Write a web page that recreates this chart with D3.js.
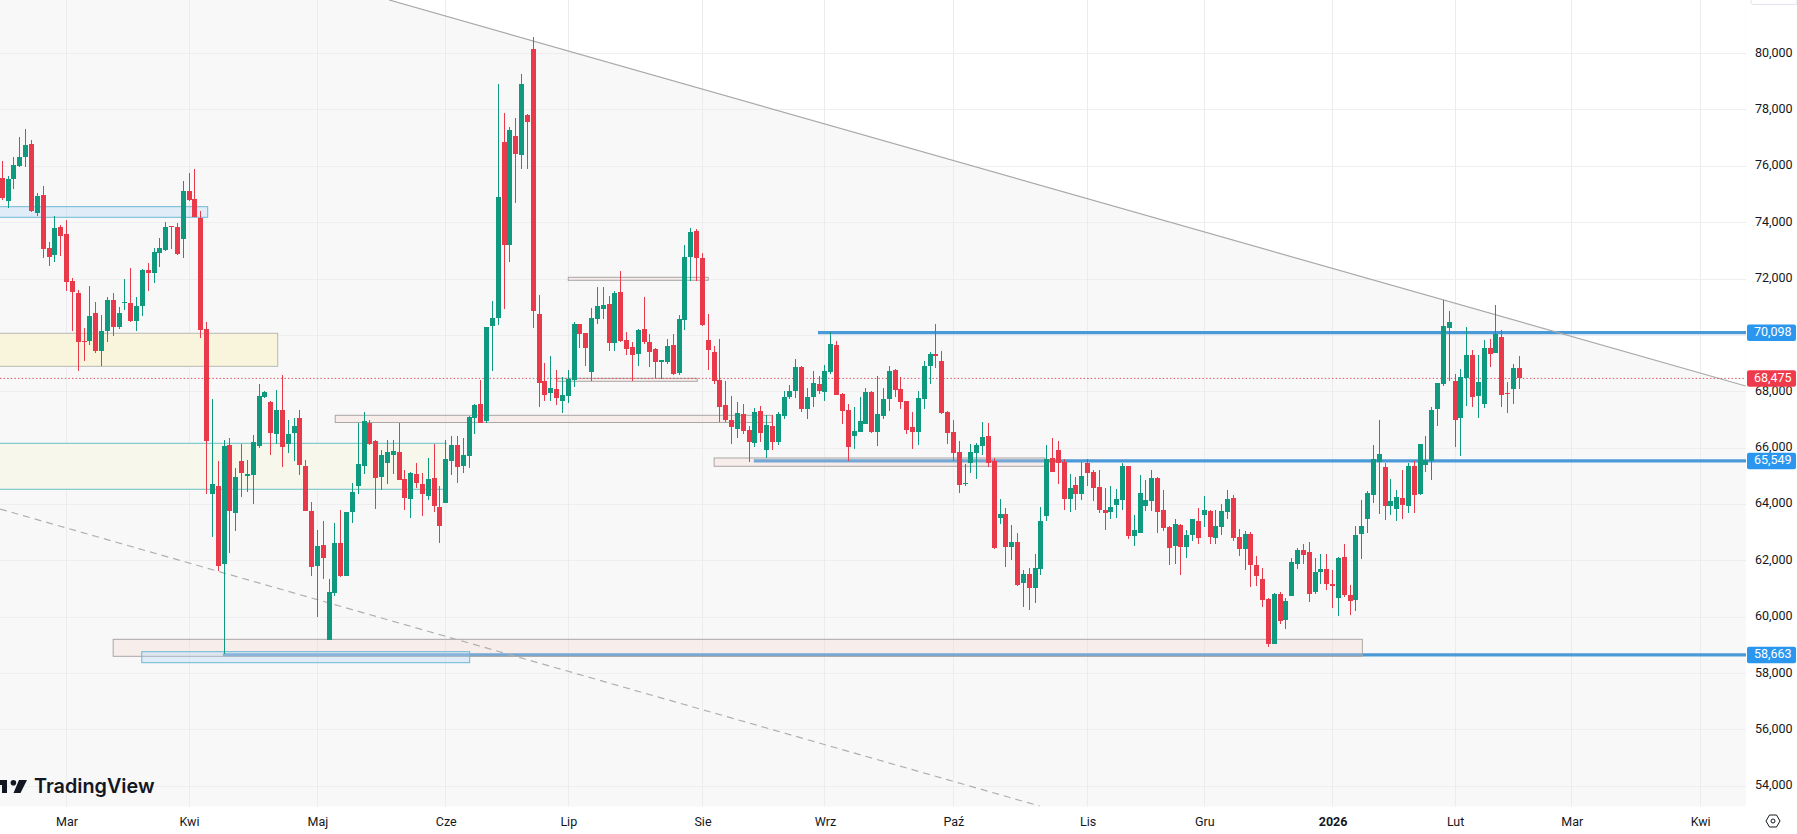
<!DOCTYPE html>
<html>
<head>
<meta charset="utf-8">
<title>TradingView chart</title>
<script src="https://cdn.jsdelivr.net/npm/d3@7"></script>
<style>
  html, body { margin: 0; padding: 0; background: #fff; overflow: hidden; }
  text { font-family: Roboto, "Liberation Sans", sans-serif; }
</style>
</head>
<body>
<svg id="chart" width="1797" height="834"></svg>
<script>
// Daily candles (one trading day per entry).
var opens = [
  75600,74760,75540,76025,76320,76805,74330,74985,73115,72840,
  73860,73610,71945,71515,69815,69790,70805,69460,70145,71270,
  70310,71150,71160,70525,71030,72335,72205,72935,73045,73895,
  73860,73410,75135,74855,74155,70225,64370,64665,61885,66095,
  63695,65530,65000,65040,66070,67800,67635,66500,67340,66130,
  66530,67080,65375,63755,61810,62570,59200,60855,62640,61480,
  63730,64640,65350,66900,66240,64960,65490,65740,65880,64890,
  64180,65065,64735,64285,64950,63895,64060,65560,66095,65350,
  65715,67065,67550,66980,70320,70630,76875,73220,77085,76410,
  77830,80175,70745,68365,67940,68085,67655,67835,68415,70390,
  70070,68685,70565,70945,71125,69715,71550,69820,69575,69335,
  70210,69750,69500,69065,69040,69645,68650,70530,72790,73715,
  72755,69845,69395,68425,67515,66985,66665,67220,66630,66190,
  67300,65920,66770,66235,67125,67800,68010,68865,67375,67800,
  68285,67975,68685,69645,67905,67340,66415,66590,66840,67975,
  66590,67125,67730,68755,68085,67655,66760,66555,67730,68900,
  69325,69100,67265,66555,65845,64725,65490,65810,66060,66415,
  65560,63505,63645,62475,62655,61220,61550,61040,61715,63585,
  65655,65920,65505,64180,64675,64355,65455,65140,64605,63790,
  63720,63965,64145,65350,62865,63000,63930,64110,64925,63790,
  63185,62510,63290,62475,62935,63400,63610,63755,62795,63185,
  63720,64215,62830,62405,62970,61870,61350,60640,59045,60815,
  59895,60745,61880,62400,62310,60890,61600,61705,61170,60675,
  62130,60785,60605,62960,63495,64345,65515,65340,63955,63850,
  64225,63955,65360,64380,65410,65550,67395,68285,70270,68390,
  67080,68485,69315,67860,67575,69560,69385,69950,67965,68105,
  68850
];
var closes = [
  74865,75550,76060,76340,76770,74400,74960,73055,72770,73825,
  73515,71885,71530,69755,69790,70700,69460,70170,71270,70310,
  70805,71200,70525,71055,72335,72205,72970,73100,73860,73870,
  72890,75135,74820,74215,70205,66270,64710,61810,66060,63765,
  64960,65100,65090,66200,67835,68005,66530,67340,66025,66510,
  66790,65385,63765,61775,62535,62095,60880,62640,61480,63720,
  64430,65420,66980,66155,64935,65740,65850,65895,64865,64225,
  65125,64780,64355,64910,63930,63230,65600,66095,65325,65740,
  67090,67515,66900,70285,70600,74910,73220,77300,76450,78930,
  77585,70850,68310,67870,68120,67765,67870,68460,70390,70045,
  69560,70600,71030,71090,69715,71515,69785,69500,69300,70175,
  69750,69395,69040,69110,69610,68615,70565,72790,73680,72735,
  70380,69465,68380,67445,66985,66735,67230,66605,66200,67290,
  66520,66830,66235,67195,67825,68010,68865,67375,67825,68295,
  68045,68720,69680,67880,67315,66035,66615,66945,67975,66590,
  67220,67730,68720,68060,67620,66630,66555,67765,68900,69325,
  69265,67230,66520,65810,64675,64770,65880,66095,66380,65490,
  62465,63645,62475,62655,61160,61550,61040,61730,63410,65620,
  65150,65480,64180,64570,64355,64995,65100,64570,63790,63695,
  63920,64180,65350,62865,63080,64425,64145,64925,63720,63150,
  62440,63325,62475,62935,63470,62795,63790,62830,63220,63755,
  64180,62795,62405,62970,61870,61445,60605,59045,60815,59860,
  60570,61955,62380,62200,60815,61600,61705,61195,61100,62095,
  60780,60570,62925,63230,64415,65610,65790,63955,64120,64275,
  63990,65375,64345,66130,65575,67360,68295,70340,70485,67005,
  68520,69315,67825,68355,69560,69350,70035,67895,67930,68850,
  68475
];
var highs = [
  76200,75670,76340,77030,77325,76935,75040,75315,73330,74250,
  73930,74110,72040,71610,70265,71765,71200,70735,71375,71505,
  71020,72015,72390,71375,72360,72570,73100,73470,74035,73900,
  74000,75490,75750,75920,74430,70490,67750,65530,66300,66370,
  65300,66130,65585,66475,68285,68040,67670,68070,68600,67005,
  67080,67340,65585,64075,63080,63400,61365,63350,63810,63720,
  64770,66890,67265,67005,66275,65920,66295,66275,66890,65235,
  65160,65490,65115,65660,66130,64665,66275,66440,66440,66345,
  67125,67550,68400,70285,71220,78920,77900,77405,77725,79285,
  77870,80600,71445,69005,69255,68755,68510,68755,70460,70415,
  70080,70970,71705,71705,71410,71560,72295,70105,69750,70235,
  71350,70060,69550,69110,69890,70060,70710,73220,73810,73775,
  72920,70770,69630,69880,68365,67860,67635,67575,66795,67430,
  67505,67160,67160,67280,68010,68225,69170,68900,68140,68720,
  68545,68935,70105,69785,67940,67550,67455,67810,68140,68045,
  68545,68140,68920,68815,68530,67690,67265,68010,69100,69395,
  70415,69455,67325,67005,66260,65420,66155,66190,66910,66900,
  65655,64200,63885,63260,62975,61670,61730,62235,63895,66095,
  66345,66260,65620,65065,64970,65505,65600,65210,65210,64570,
  64640,64535,65480,65350,63610,65030,64855,65210,64970,64500,
  63220,63470,63315,63080,63470,63885,64285,63815,63790,64025,
  64500,64320,63115,63045,63010,62155,61730,60675,60875,60910,
  60665,62085,62440,62615,62660,62085,62235,62260,61670,62140,
  62590,61150,63230,64155,64490,66120,66995,65480,64900,64510,
  65230,65490,65550,66145,66440,67470,68320,71265,70875,68625,
  68805,70305,69480,69315,69845,69865,71090,70190,68355,68980,
  69265
];
var lows = [
  74800,74520,75185,75965,75990,74370,74250,72735,72450,72595,
  72805,71590,70170,68725,69100,69670,69365,68925,69755,69970,
  70225,70915,70490,70145,70700,71590,71850,72440,73010,73055,
  72865,72735,74780,74190,69910,64380,62840,61635,58700,62275,
  63055,64260,64440,64000,66000,67780,65740,66150,65330,65820,
  65540,65030,63760,61480,60000,61350,59200,60760,61420,61480,
  63360,64355,65065,66105,63825,64520,64710,65090,64855,63790,
  63515,64570,63590,64145,63730,62650,64055,65030,64760,65115,
  65290,66485,66890,66890,68735,70355,70925,72590,74685,75915,
  75915,70260,67455,67690,67690,67515,67230,67585,68155,69560,
  68900,68365,70400,70565,69445,69445,69760,69290,68365,68900,
  69700,68865,68500,68460,69000,68580,68580,70175,71940,71940,
  70330,68790,68285,66910,66910,66155,66365,66510,65505,66035,
  66215,65645,65920,66095,67040,67750,67775,67280,67040,67455,
  67905,67690,68640,67880,66840,65540,65965,66555,66840,66530,
  66060,67040,67325,67800,67385,66485,65965,66095,67385,68260,
  68830,67205,66130,65530,64425,64640,65135,64890,65740,65325,
  62430,63315,61775,62015,61125,60365,60250,60510,61500,63400,
  65150,64720,63790,63720,63790,64145,64640,64110,63705,63080,
  63470,63530,63810,62760,62510,62990,63755,63755,62985,63055,
  61870,61905,61515,62085,62690,62615,63185,62615,62615,62935,
  63470,62690,62155,61660,61070,61090,60365,58950,59045,59775,
  59575,60745,61715,61905,60530,60840,61195,60960,60320,60035,
  60700,60075,60215,62050,62985,64040,63660,63445,63620,63400,
  63495,63705,63695,64320,65160,64875,66795,68215,68390,66025,
  65730,67505,67445,67055,67420,68885,69380,67445,67230,67575,
  68085
];

// Axis ticks.
var priceTicks = [54000,56000,58000,60000,62000,64000,66000,68000,70000,72000,74000,76000,78000,80000];
var monthIndex = [11,32,54,76,97,120,141,163,186,206,228,249,269,291];
var monthLabels = ["Mar","Kwi","Maj","Cze","Lip","Sie","Wrz","Paź","Lis","Gru","2026","Lut","Mar","Kwi"];

// Horizontal levels and the last price.
var levelPrices = [70098,65549,58663];
var levelStarts = [139.8,128.8,37.8];
var lastPrice = 68475;

// Zones drawn on the chart (candle index and price bounds).
var zoneKinds   = ["blue","yellow","band","rose","rose","rose","rose","rose","blue"];
var zoneStarts  = [-1,-1,-1,57.06,97,95.1,122,19,23.9];
var zoneEnds    = [35.2,47.2,76.2,131.9,121,119.1,178.7,233.1,80.1];
var zoneTops    = [74568,70076,66172,67165,72062,68478,65650,59216,58777];
var zoneBottoms = [74192,68904,64540,66910,71955,68372,65356,58613,58386];

// Falling channel: [candle index, price] of both ends.
var trendTop = [[66.3,81903],[298.8,68205]];
var trendBottom = [[-0.4,63840],[177.8,53300]];

var width = 1797, height = 834, plotRight = 1746, plotBottom = 806.7;
var svg = d3.select("#chart");

var x = d3.scaleLinear().domain([0,260]).range([2.33,1519.3]);
var y = d3.scaleLinear().domain([54000,80000]).range([786.3,53.6]);

svg.append("defs").append("clipPath").attr("id","plot")
   .append("rect").attr("width",plotRight).attr("height",plotBottom);

var plot = svg.append("g").attr("clip-path","url(#plot)");

// Plot background, white only above the upper channel line.
plot.append("rect").attr("width",plotRight).attr("height",plotBottom).style("fill","#f8f8f9");
var topLine = d3.line().x(function(d){ return x(d[0]); }).y(function(d){ return y(d[1]); });
plot.append("path")
    .attr("d", topLine(trendTop) + "L" + x(trendTop[1][0]) + ",0Z")
    .style("fill","#ffffff");

// Grid lines.
plot.selectAll(".hgrid").data(priceTicks).enter().append("line")
    .attr("class","hgrid")
    .attr("x1",0).attr("x2",plotRight)
    .attr("y1",function(d){ return y(d); }).attr("y2",function(d){ return y(d); })
    .style("stroke","#eeeef0").style("shape-rendering","crispEdges");
plot.selectAll(".vgrid").data(monthIndex).enter().append("line")
    .attr("class","vgrid")
    .attr("y1",0).attr("y2",plotBottom)
    .attr("x1",function(d){ return x(d); }).attr("x2",function(d){ return x(d); })
    .style("stroke","#ececef").style("shape-rendering","crispEdges");

// Level lines go under the zones so that the zones tint them.
plot.selectAll(".level").data(levelPrices).enter().append("line")
    .attr("class","level")
    .attr("x1",function(d,i){ return x(levelStarts[i]); }).attr("x2",plotRight)
    .attr("y1",function(d){ return y(d); }).attr("y2",function(d){ return y(d); })
    .style("stroke","#4b9ad8").style("stroke-width",3.2);

// Zones.
var zoneFill = {blue:"#a8d4f5", yellow:"#f9f5dd", band:"#f8f7ec", rose:"#f2d0c8"};
var zoneStroke = {blue:"#6cb8d2", yellow:"#b8b8b4", band:"none", rose:"#aaa6a4"};
var zoneOpacity = {blue:0.3, yellow:1, band:1, rose:0.25};
zoneKinds.forEach(function(kind,i){
  var zx = x(zoneStarts[i]), zw = x(zoneEnds[i]) - zx;
  var zt = y(zoneTops[i]), zh = y(zoneBottoms[i]) - zt;
  plot.append("rect")
      .attr("x",zx).attr("y",zt).attr("width",zw).attr("height",zh)
      .style("fill",zoneFill[kind]).style("fill-opacity",zoneOpacity[kind])
      .style("stroke",zoneStroke[kind]).style("stroke-width",1);
  if (kind == "band") {
    [zt,zt+zh].forEach(function(ly){
      plot.append("line").attr("x1",zx).attr("x2",zx+zw).attr("y1",ly).attr("y2",ly)
          .style("stroke","#66bfc4").style("stroke-width",1);
    });
  }
});

// Channel lines.
plot.append("path").attr("d",topLine(trendTop))
    .style("fill","none").style("stroke","#a9a9a9").style("stroke-width",1.2);
plot.append("path").attr("d",topLine(trendBottom))
    .style("fill","none").style("stroke","#b0b0b0").style("stroke-width",1.2)
    .style("stroke-dasharray","7 5");

// Last price line.
plot.append("line")
    .attr("x1",0).attr("x2",plotRight).attr("y1",y(lastPrice)).attr("y2",y(lastPrice))
    .style("stroke","#d8505c").style("stroke-dasharray","1.4 2.2");

// Candles.
var upColor = "#0f9a80", downColor = "#e83a4a";
var candle = plot.selectAll(".candle").data(opens).enter().append("g").attr("class","candle")
    .style("shape-rendering","crispEdges")
    .style("fill",function(d,i){ return closes[i] >= d ? upColor : downColor; })
    .style("stroke",function(d,i){ return closes[i] >= d ? upColor : downColor; });
candle.append("line")
    .attr("x1",function(d,i){ return x(i); }).attr("x2",function(d,i){ return x(i); })
    .attr("y1",function(d,i){ return y(highs[i]); }).attr("y2",function(d,i){ return y(lows[i]); })
    .style("stroke-width",1);
candle.append("rect")
    .attr("x",function(d,i){ return x(i) - 2.5; })
    .attr("width",5)
    .attr("y",function(d,i){ return y(Math.max(d,closes[i])); })
    .attr("height",function(d,i){ return Math.max(1.5, Math.abs(y(d) - y(closes[i]))); })
    .style("stroke","none");

// Price axis.
svg.append("rect").attr("x",plotRight).attr("width",width-plotRight).attr("height",height).style("fill","#fff");
var priceAxis = d3.axisRight(y).tickValues(priceTicks).tickFormat(d3.format(",")).tickSize(0).tickPadding(9);
var priceG = svg.append("g").attr("transform","translate("+plotRight+",-1.5)").call(priceAxis);
priceG.select(".domain").remove();
priceG.selectAll("text").style("font-size","12.5px").style("fill","#131722");

// Time axis.
svg.append("rect").attr("y",plotBottom).attr("width",width).attr("height",height-plotBottom).style("fill","#fff");
var timeAxis = d3.axisBottom(x).tickValues(monthIndex)
    .tickFormat(function(d,i){ return monthLabels[i]; }).tickSize(0).tickPadding(10);
var timeG = svg.append("g").attr("transform","translate(0,"+plotBottom+")").call(timeAxis);
timeG.select(".domain").remove();
timeG.selectAll("text").style("font-size","12.5px").style("fill","#131722")
     .style("font-weight",function(d,i){ return monthLabels[i] == "2026" ? "700" : "400"; });

// Price labels on top of the axis.
var badgePrices = levelPrices.concat([lastPrice]);
var badge = svg.selectAll(".badge").data(badgePrices).enter().append("g").attr("class","badge");
badge.append("rect")
    .attr("x",plotRight+1).attr("width",49).attr("height",16.5).attr("rx",2)
    .attr("y",function(d){ return y(d) - 8.2; })
    .style("fill",function(d){ return d == lastPrice ? "#ef3a4c" : "#2a96ee"; });
badge.append("text")
    .attr("x",plotRight+26.7).attr("text-anchor","middle")
    .attr("y",function(d){ return y(d) + 3.3; })
    .text(d3.format(","))
    .style("font-size","12.5px").style("fill","#fff");

// TradingView mark, cut by the left edge.
var logo = svg.append("g").style("fill","#131722");
logo.append("path").attr("d","M0,780H7V793H2V785H0Z");
logo.append("circle").attr("cx",13.4).attr("cy",782.8).attr("r",2.8);
logo.append("path").attr("d","M19,780H27L20.5,793H13.5Z");
logo.append("text").attr("x",34).attr("y",793)
    .text("TradingView")
    .style("font-family","Inter, Roboto, sans-serif").style("font-size","19.8px").style("font-weight","600");

// Corner of the scale button and the settings icon.
svg.append("rect").attr("x",1751).attr("y",-6).attr("width",46).attr("height",10.5).attr("rx",2)
   .style("fill","#fff").style("stroke","#e0e3eb");
var gear = svg.append("g").attr("transform","translate(1773,821)").style("fill","none").style("stroke","#131722");
gear.append("path").attr("d","M-7,0L-3.5,-6H3.5L7,0L3.5,6H-3.5Z");
gear.append("circle").attr("r",2);
</script>
</body>
</html>
